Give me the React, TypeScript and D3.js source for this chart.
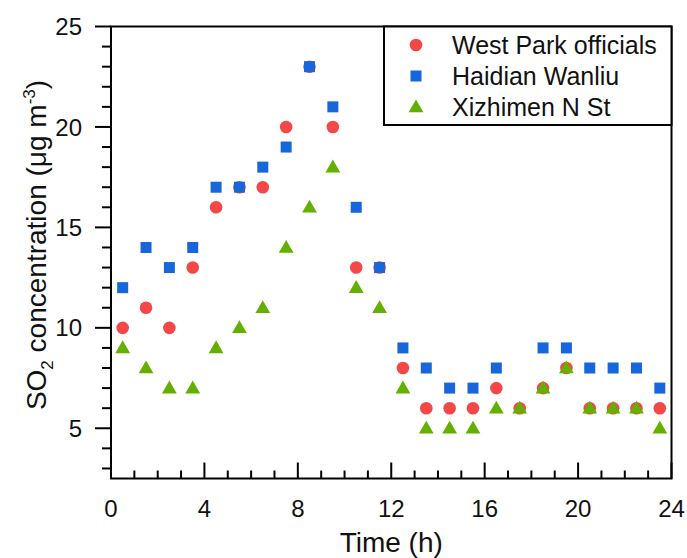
import React from "react";
import * as d3 from "d3";

const hours = [0.5, 1.5, 2.5, 3.5, 4.5, 5.5, 6.5, 7.5, 8.5, 9.5, 10.5, 11.5, 12.5, 13.5, 14.5, 15.5, 16.5, 17.5, 18.5, 19.5, 20.5, 21.5, 22.5, 23.5];
const westPark = [10, 11, 10, 13, 16, 17, 17, 20, 23, 20, 13, 13, 8, 6, 6, 6, 7, 6, 7, 8, 6, 6, 6, 6];
const haidian: (number | null)[] = [12, 14, 13, 14, 17, 17, 18, 19, 23, 21, 16, 13, 9, 8, 7, 7, 8, null, 9, 9, 8, 8, 8, 7];
const xizhimen = [9, 8, 7, 7, 9, 10, 11, 14, 16, 18, 12, 11, 7, 5, 5, 5, 6, 6, 7, 8, 6, 6, 6, 5];
const seriesNames = ["West Park officials", "Haidian Wanliu", "Xizhimen N St"];
const xTickLabels = [0, 4, 8, 12, 16, 20, 24];
const yTickLabels = [5, 10, 15, 20, 25];

const RED = "#f44848";
const BLUE = "#1766dc";
const GREEN = "#64b000";
const FONT = "Liberation Sans, Arial, sans-serif";

export default function App() {
  const W = 687, H = 558;
  const left = 111, right = 671.5, top = 26.5, bottom = 478.5;
  const x = d3.scaleLinear().domain([0, 24]).range([left, right]);
  const y = d3.scaleLinear().domain([2.5, 25]).range([bottom, top]);

  const xTicks = d3.range(0, 25, 1);
  const yTicks = d3.range(3, 26, 1);

  const circle = (cx: number, cy: number, k: string) => (
    <circle key={k} cx={cx} cy={cy} r={6.3} fill={RED} />
  );
  const square = (cx: number, cy: number, k: string) => (
    <rect key={k} x={cx - 5.5} y={cy - 5.5} width={11} height={11} fill={BLUE} />
  );
  const triSym = d3.symbol().type(d3.symbolTriangle).size(95)();
  const tri = (cx: number, cy: number, k: string) => (
    <path key={k} d={triSym as string} transform={`translate(${cx},${cy + 1})`} fill={GREEN} />
  );

  return (
    <svg width={W} height={H} style={{ display: "block", position: "absolute", left: 0, top: 0 }} fontFamily={FONT}>
      <rect width={W} height={H} fill="#fff" />
      {/* data */}
      {hours.map((h, i) => circle(x(h), y(westPark[i]), "r" + i))}
      {hours.map((h, i) => (haidian[i] == null ? null : square(x(h), y(haidian[i] as number), "b" + i)))}
      {hours.map((h, i) => tri(x(h), y(xizhimen[i]), "g" + i))}

      {/* frame */}
      <rect x={left} y={top} width={right - left} height={bottom - top} fill="none" stroke="#000" strokeWidth={2} />

      {/* y ticks */}
      {yTicks.map((t) => {
        const major = t % 5 === 0;
        return (
          <line key={"yt" + t} x1={left - (major ? 16 : 9)} x2={left} y1={y(t)} y2={y(t)} stroke="#000" strokeWidth={2} />
        );
      })}
      {yTickLabels.map((t) => (
        <text key={"yl" + t} x={82} y={y(t)} dy="0.36em" textAnchor="end" fontSize={24} fill="#111">
          {t}
        </text>
      ))}

      {/* x ticks */}
      {xTicks.map((t) => {
        const major = t % 4 === 0;
        return (
          <line key={"xt" + t} x1={x(t)} x2={x(t)} y1={bottom} y2={bottom - (major ? 16 : 8)} stroke="#000" strokeWidth={2} />
        );
      })}
      {xTickLabels.map((t) => (
        <text key={"xl" + t} x={x(t)} y={517} textAnchor="middle" fontSize={24} fill="#111">
          {t}
        </text>
      ))}

      {/* axis titles */}
      <text x={(left + right) / 2} y={552} textAnchor="middle" fontSize={28} fill="#111">
        Time (h)
      </text>
      <text transform={`translate(46,245) rotate(-90)`} textAnchor="middle" fontSize={28} fill="#111">
        SO
        <tspan fontSize={17} dy={7}>2</tspan>
        <tspan dy={-7}> concentration (μg m</tspan>
        <tspan fontSize={17} dy={-11}>-3</tspan>
        <tspan dy={11}>)</tspan>
      </text>

      {/* legend */}
      <rect x={384} y={top} width={right - 384} height={125 - top} fill="#fff" stroke="#000" strokeWidth={2} />
      {circle(416, 45, "lr")}
      {square(416, 76, "lb")}
      {tri(416, 107, "lg")}
      {seriesNames.map((n, i) => (
        <text key={"ln" + i} x={452} y={45 + i * 31} dy="0.36em" fontSize={25} fill="#111">
          {n}
        </text>
      ))}
    </svg>
  );
}
